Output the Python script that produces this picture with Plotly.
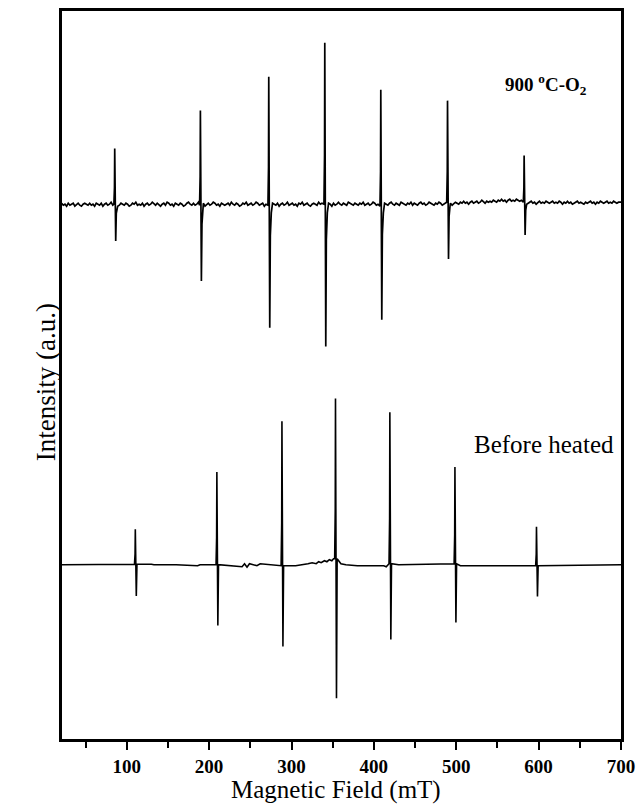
import plotly.graph_objects as go

# ---------------- data ----------------
# Peak positions (mT) and derivative-line amplitudes (a.u., up / down)
UPPER_FIELD = [86, 190, 273, 341, 409, 490, 583]
UPPER_UP = [56, 95, 129, 162, 117, 102, 47]
UPPER_DOWN = [37, 76, 123, 143, 114, 57, 33]

LOWER_FIELD = [111, 210, 289, 354, 420, 499, 598]
LOWER_UP = [35, 93, 145, 161, 152, 97, 39]
LOWER_DOWN = [32, 61, 81, 140, 76, 59, 31]

# Upper trace baseline noise, sampled every 2 mT starting at 21 mT
UPPER_NOISE_START = 21
UPPER_NOISE_STEP = 2
UPPER_NOISE = [
    1, -1, 0, -2, 1, -1, 0, 1, -2, 0, 1, -1, -2, 0, 1, 0, -1, 1, -1, 0,
    -2, 1, 0, -1, 1, -2, 0, 1, -1, 0, 2, -1, 0, 1, -2, -1, 1, 0, -1, 1,
    0, -2, -1, 1, 0, 2, -1, 0, -1, 1, -2, 0, 1, -1, 0, 2, 0, -1, 1, -1,
    -2, 0, 1, -1, 2, 1, -1, 0, -2, 1, 0, -1, 1, 0, -2, -1, 1, 2, 0, -1,
    1, -1, 0, 2, -1, 0, 1, -2, 0, 1, -1, 0, 2, 1, -1, 0, -2, 1, 0, -1,
    0, 1, -1, 2, 0, -1, 1, 0, -2, -1, 1, 0, 2, -1, 0, 1, -1, 0, 2, 1,
    -1, 0, 1, -2, 0, 1, -1, 2, 1, 0, -1, 1, -2, 0, 1, -1, 0, 2, -1, 0,
    1, -1, 0, -2, 1, 0, 2, -1, 0, 1, -1, -2, 0, 1, 0, -1, 2, 0, 1, -1,
    0, -1, 1, 0, -2, 1, -1, 0, 2, 0, -1, 1, 0, -1, 2, 1, 0, -1, 1, 0,
    -1, 1, 0, 2, -1, 0, 1, -1, 0, 2, 1, -1, 0, 1, -2, 0, 1, 0, -1, 1,
    2, 0, -1, 1, 0, -1, 2, 1, 0, -1, 1, 0, 2, -1, 1, 0, -1, 1, 2, 0,
    1, -1, 0, 2, 1, 0, -1, 1, 0, 2, 1, -1, 0, 1, 2, 0, 1, -1, 1, 2,
    1, 0, 2, 1, 3, 1, 2, 0, 2, 3, 1, 2, 3, 1, 2, 4, 2, 1, 3, 2,
    3, 2, 4, 3, 2, 4, 3, 5, 3, 4, 2, 4, 5, 3, 4, 3, 5, 4, 3, 4,
    3, 2, 3, 1, 2, 3, 1, 2, 0, 2, 3, 1, 2, 1, 3, 2, 1, 2, 3, 1,
    2, 1, 3, 2, 0, 2, 1, 3, 1, 2, 0, 1, 2, 3, 1, 2, 1, 0, 2, 1,
    2, 3, 1, 2, 0, 2, 1, 3, 2, 1, 2, 3, 1, 2, 1, 3, 2, 1, 2, 2,
]

# Lower trace: small baseline features (field mT, a.u.)
LOWER_BASE_FIELD = [21, 130, 133, 160, 186, 189, 240, 243, 246, 249, 258, 262,
                    305, 320, 325, 330, 333, 336, 340, 343, 346, 349, 351,
                    360, 366, 380, 400, 412, 415, 418, 430, 495, 505, 700]
LOWER_BASE_VALUE = [0, 0.5, 0, 0, -1, 0, -2, 1, -2.5, 1, -1, 1,
                    -1, 1, 2, 1, 3, 2, 4, 3, 5, 4, 6,
                    1, 0, -1, -1, -1, -2, 1, 0, 1, -1, 0]

UPPER_OFFSET = 537
LOWER_OFFSET = 175

X_RANGE = [21.4, 700]
Y_RANGE = [0, 731]
MAJOR_TICKS = [100, 200, 300, 400, 500, 600, 700]
MINOR_TICKS = [50, 150, 250, 350, 450, 550, 650]


# ---------------- build traces ----------------
def build_trace(base_x, base_y, fields, ups, downs, tail):
    pts = []
    for bx, by in zip(base_x, base_y):
        if all(abs(bx - f) > 2.6 for f in fields):
            pts.append((bx, by))
    for f, u, d in zip(fields, ups, downs):
        nb = min(zip(base_x, base_y), key=lambda p: abs(p[0] - f))[1]
        pts += [(f - 1.6, nb), (f - 0.9, nb + 0.3 * u), (f - 0.6, nb + u),
                (f + 0.6, nb - d)]
        if tail:
            pts += [(f + 1.3, nb - 0.25 * d), (f + 2.5, nb - 0.06 * d)]
        else:
            pts += [(f + 1.4, nb)]
    pts.sort()
    return [p[0] for p in pts], [p[1] for p in pts]


ux_base = [UPPER_NOISE_START + UPPER_NOISE_STEP * i for i in range(len(UPPER_NOISE))]
uy_base = list(UPPER_NOISE)
ux_base.append(700)
uy_base.append(UPPER_NOISE[-1])
ux, uy = build_trace(ux_base, uy_base, UPPER_FIELD, UPPER_UP, UPPER_DOWN, True)
lx, ly = build_trace(LOWER_BASE_FIELD, LOWER_BASE_VALUE, LOWER_FIELD, LOWER_UP,
                     LOWER_DOWN, False)

fig = go.Figure()
fig.add_trace(go.Scatter(x=ux, y=[v + UPPER_OFFSET for v in uy], mode="lines",
                         line=dict(color="black", width=1.7), showlegend=False))
fig.add_trace(go.Scatter(x=lx, y=[v + LOWER_OFFSET for v in ly], mode="lines",
                         line=dict(color="black", width=1.6), showlegend=False))

SERIF = "Liberation Serif, Times New Roman, serif"

fig.update_layout(
    width=643, height=807,
    margin=dict(l=62, r=14, t=8, b=68),
    paper_bgcolor="white", plot_bgcolor="white",
    font=dict(family=SERIF, color="black"),
    xaxis=dict(
        range=X_RANGE, showgrid=False, zeroline=False,
        showline=True, linecolor="black", linewidth=2.5, mirror=True,
        ticks="outside", ticklen=8, tickwidth=2, tickcolor="black",
        tickvals=MAJOR_TICKS, ticklabeloverflow="allow",
        tickfont=dict(family=SERIF, size=19, weight="bold"),
        minor=dict(ticks="outside", ticklen=6, tickwidth=2, tickcolor="black",
                   tickvals=MINOR_TICKS),
    ),
    yaxis=dict(
        range=Y_RANGE, showgrid=False, zeroline=False,
        showline=True, linecolor="black", linewidth=2.5, mirror=True,
        ticks="", showticklabels=False,
    ),
)

fig.add_annotation(text="Magnetic Field (mT)", xref="paper", yref="paper",
                   x=0.49, y=0, yshift=-51, yanchor="middle", showarrow=False,
                   font=dict(family=SERIF, size=25))
fig.add_annotation(text="Intensity (a.u.)", xref="paper", yref="paper",
                   x=0, y=0.49, xshift=-33, textangle=-90, showarrow=False,
                   font=dict(family=SERIF, size=27))
fig.add_annotation(text="900 <sup>o</sup>C-O<sub>2</sub>", x=609, y=657,
                   showarrow=False,
                   font=dict(family=SERIF, size=19, weight="bold"))
fig.add_annotation(text="Before heated", x=606, y=296, showarrow=False,
                   font=dict(family=SERIF, size=25))

fig.write_html("out.html")
